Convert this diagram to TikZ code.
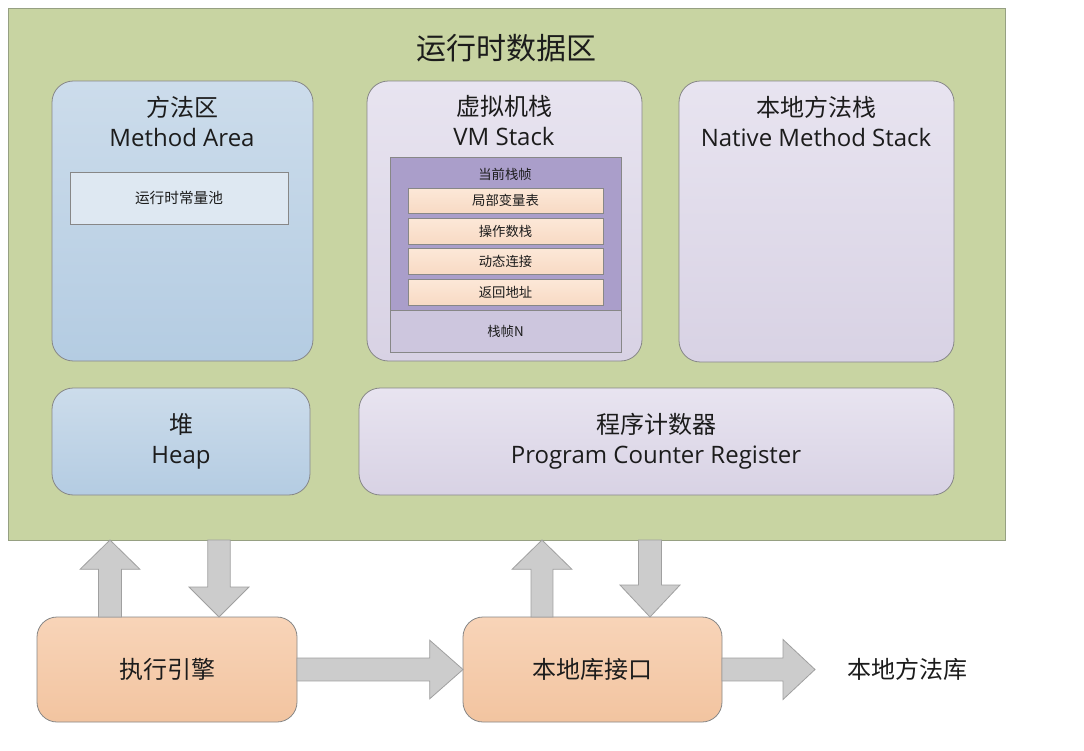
\documentclass[tikz,border=0pt]{standalone}
\usepackage{fontspec}
\setmainfont{Open Sans}
\newfontfamily\cjk{Noto Sans CJK SC}
\usetikzlibrary{calc}
\definecolor{bggreen}{RGB}{200,212,162}
\definecolor{greenline}{RGB}{150,160,130}
\definecolor{bluetop}{RGB}{204,220,235}
\definecolor{bluebot}{RGB}{180,204,226}
\definecolor{lavtop}{RGB}{232,228,240}
\definecolor{lavbot}{RGB}{216,210,228}
\definecolor{peachtop}{RGB}{248,212,184}
\definecolor{peachbot}{RGB}{242,196,160}
\definecolor{framepurple}{RGB}{170,158,202}
\definecolor{framelight}{RGB}{205,198,222}
\definecolor{rowtop}{RGB}{252,232,216}
\definecolor{rowbot}{RGB}{248,218,196}
\definecolor{poolfill}{RGB}{222,232,242}
\definecolor{boxline}{RGB}{135,135,135}
\definecolor{arrowfill}{RGB}{204,204,204}
\definecolor{arrowline}{RGB}{160,160,160}
\definecolor{txt}{RGB}{28,28,28}
\newcommand\mkbox[7]{\node[#6, minimum width={(#4-#2)*0.75pt}, minimum height={(#5-#3)*0.75pt}] (#1) at ({(#2+#4)/2},{(#3+#5)/2}) {#7};}
% block arrow from #1 to #2: shaft half #3 (pt), head half #4, head length #5
\newcommand\blockarrow[5]{%
\draw[barrow] let \p1=(#1), \p2=(#2), \n1={veclen(\x2-\x1,\y2-\y1)}, \n2={scalar((\x2-\x1)/\n1)}, \n3={scalar((\y2-\y1)/\n1)}, \n4={\n1-#5pt} in
 ({\x1-#3pt*\n3},{\y1+#3pt*\n2}) --
 ({\x1+\n4*\n2-#3pt*\n3},{\y1+\n4*\n3+#3pt*\n2}) --
 ({\x1+\n4*\n2-#4pt*\n3},{\y1+\n4*\n3+#4pt*\n2}) --
 (\p2) --
 ({\x1+\n4*\n2+#4pt*\n3},{\y1+\n4*\n3-#4pt*\n2}) --
 ({\x1+\n4*\n2+#3pt*\n3},{\y1+\n4*\n3-#3pt*\n2}) --
 ({\x1+#3pt*\n3},{\y1-#3pt*\n2}) -- cycle;}
\begin{document}
\begin{tikzpicture}[x=0.75pt,y=-0.75pt,
  every node/.style={inner sep=0pt, outer sep=0pt, text=txt},
  region/.style={draw=boxline, line width=0.6pt, rounded corners=#1},
  region/.default=16pt,
  bluebox/.style={region, top color=bluetop, bottom color=bluebot},
  lavbox/.style={region, top color=lavtop, bottom color=lavbot},
  peachbox/.style={region=15pt, top color=peachtop, bottom color=peachbot},
  framebox/.style={draw=boxline, line width=0.6pt, fill=framepurple},
  lightbox/.style={draw=boxline, line width=0.6pt, fill=framelight},
  rowbox/.style={draw=boxline, line width=0.5pt, top color=rowtop, bottom color=rowbot},
  poolbox/.style={draw=boxline, line width=0.6pt, fill=poolfill},
  bigtxt/.style={font=\fontsize{18}{22.5}\selectfont, align=center},
  smalltxt/.style={font=\cjk\fontsize{10}{12}\selectfont},
  barrow/.style={draw=arrowline, line width=0.6pt, fill=arrowfill, line join=miter}
]
\useasboundingbox (0,0) rectangle (1084,750);
\fill[white] (0,0) rectangle (1084,750);

% outer runtime data area
\mkbox{rda}{8}{8}{1005}{540}{draw=greenline, line width=0.6pt, fill=bggreen}{}
\node[font=\cjk\fontsize{22.5}{26}\selectfont] (title) at (506,48) {运行时数据区};

% Method area
\mkbox{ma}{52}{81}{313}{361}{bluebox}{}
\node[bigtxt] (matxt) at (182,121) {{\cjk 方法区}\\Method Area};
\mkbox{pool}{70}{172}{288}{224}{poolbox}{}
\node[smalltxt, font=\cjk\fontsize{11}{13}\selectfont] (pooltxt) at (pool) {运行时常量池};

% VM stack
\mkbox{vms}{367}{81}{642}{361}{lavbox}{}
\node[bigtxt] (vmstxt) at (504,121) {{\cjk 虚拟机栈}\\VM Stack};
\mkbox{frame}{390}{157}{621}{310}{framebox}{}
\mkbox{framen}{390}{310}{621}{352}{lightbox}{}
\node[smalltxt] (curtxt) at (505,174) {当前栈帧};
\node[smalltxt] (framentxt) at (framen) {栈帧N};
\mkbox{r1}{408}{188}{603}{213}{rowbox}{}
\mkbox{r2}{408}{218}{603}{244}{rowbox}{}
\mkbox{r3}{408}{248}{603}{274}{rowbox}{}
\mkbox{r4}{408}{279}{603}{305}{rowbox}{}
\node[smalltxt] at (r1) {局部变量表};
\node[smalltxt] at (r2) {操作数栈};
\node[smalltxt] at (r3) {动态连接};
\node[smalltxt] at (r4) {返回地址};

% Native method stack
\mkbox{nms}{679}{81}{954}{362}{lavbox}{}
\node[bigtxt] (nmstxt) at (816,121) {{\cjk 本地方法栈}\\Native Method Stack};

% Heap
\mkbox{heap}{52}{388}{310}{495}{bluebox}{}
\node[bigtxt] (heaptxt) at (181,441) {{\cjk 堆}\\Heap};

% PC register
\mkbox{pc}{359}{388}{954}{495}{lavbox}{}
\node[bigtxt] (pctxt) at (656,441) {{\cjk 程序计数器}\\Program Counter Register};

% bottom boxes
\mkbox{exec}{37}{617}{297}{722}{peachbox}{\cjk\fontsize{18}{22}\selectfont 执行引擎}
\mkbox{lib}{463}{617}{722}{722}{peachbox}{\cjk\fontsize{18}{22}\selectfont 本地库接口}
\node[font=\cjk\fontsize{18}{22}\selectfont] (nlib) at (907,669) {本地方法库};

% arrow end points
\coordinate (u1s) at (110,617); \coordinate (u1e) at (110,540);
\coordinate (d1s) at (219,540); \coordinate (d1e) at (219,617);
\coordinate (u2s) at (542,617); \coordinate (u2e) at (542,540);
\coordinate (d2s) at (650,540); \coordinate (d2e) at (650,617);
\coordinate (h2e) at (815,669.5);

\blockarrow{u1s}{u1e}{8.6}{22.5}{22}
\blockarrow{d1s}{d1e}{8.4}{22.5}{22.5}
\blockarrow{u2s}{u2e}{8.2}{22.5}{22}
\blockarrow{d2s}{d2e}{8.6}{22.5}{24}
\blockarrow{exec.east}{lib.west}{8.6}{22}{25}
\blockarrow{lib.east}{h2e}{8.6}{22.5}{24}
\end{tikzpicture}
\end{document}
